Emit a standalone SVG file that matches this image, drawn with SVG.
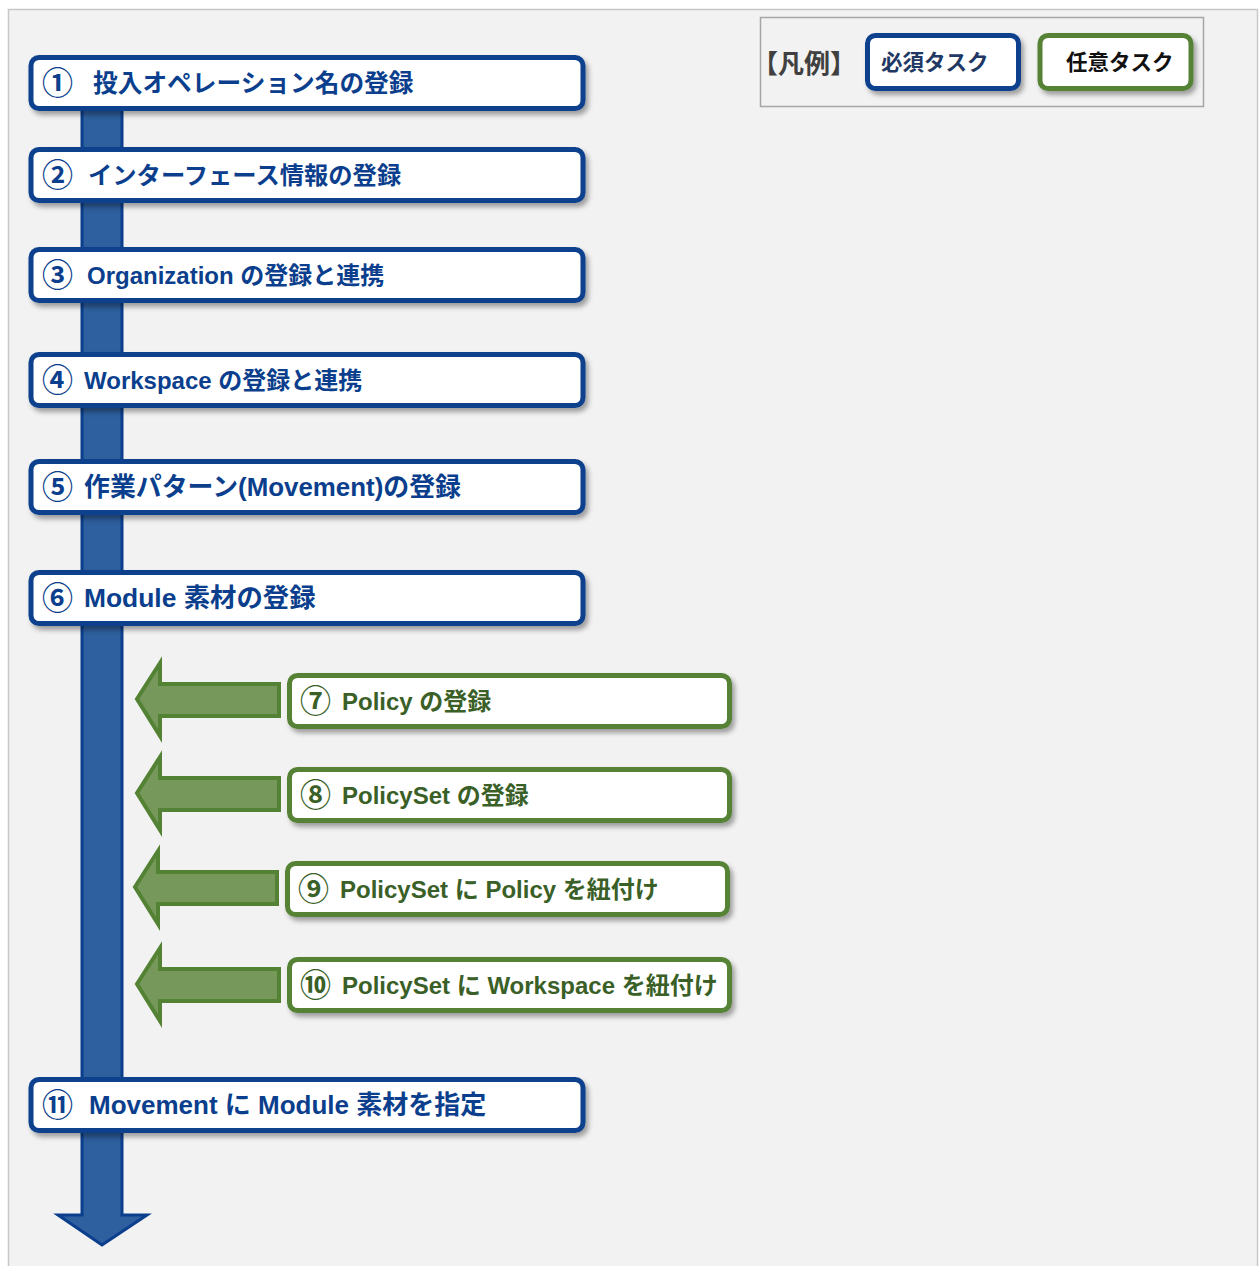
<svg xmlns="http://www.w3.org/2000/svg" width="1260" height="1266" viewBox="0 0 1260 1266">
<defs>
<style>
.req{fill:#ffffff;stroke:#0b3f8d;stroke-width:5}
.opt{fill:#ffffff;stroke:#548235;stroke-width:5}
.t{font-family:"Liberation Sans","Noto Sans CJK JP",sans-serif;font-weight:bold;font-size:24px}
.n{font-family:"Noto Sans CJK JP",sans-serif;font-weight:bold;font-size:31px}
.tb{fill:#0b3f8d}
.tg{fill:#3a5f27}
.garrow{fill:#76985a;stroke:#548235;stroke-width:4;stroke-linejoin:miter}
</style>
<filter id="sh" x="-5%" y="-20%" width="115%" height="160%">
<feDropShadow dx="3" dy="4" stdDeviation="2.5" flood-color="#000" flood-opacity="0.35"/>
</filter>
</defs>
<rect x="0" y="0" width="1260" height="1266" fill="#ffffff"/>
<rect x="8.5" y="9.5" width="1249" height="1270" fill="#f2f2f2" stroke="#c8c8c8" stroke-width="1.5"/>

<g id="legend">
<rect x="760.5" y="17.5" width="443" height="89" fill="none" stroke="#a6a6a6" stroke-width="1.5"/>
<text x="752" y="73" class="t" style="font-size:26px;fill:#404040">【凡例】</text>
<rect x="867.5" y="35.5" width="151" height="53" rx="8" class="req" filter="url(#sh)"/>
<text x="881" y="70" class="t" style="font-size:21.5px;fill:#1f3864">必須タスク</text>
<rect x="1040" y="35.5" width="151" height="53" rx="8" class="opt" filter="url(#sh)"/>
<text x="1066" y="70" class="t" style="font-size:21.5px;fill:#111111">任意タスク</text>
</g>

<g id="connectors">
<polygon points="82,100 122,100 122,1215 147,1215 102,1245 58,1215 82,1215" fill="#2e5f9e" stroke="#0b3f8d" stroke-width="3" stroke-linejoin="miter"/>
<polygon class="garrow" points="279,684 279,716 160,716 160,736 137,699 160,663 160,684"/>
<polygon class="garrow" points="279,778 279,810 160,810 160,830 137,793 160,757 160,778"/>
<polygon class="garrow" points="277,872 277,904 158,904 158,924 135,887 158,851 158,872"/>
<polygon class="garrow" points="279,969 279,1001 160,1001 160,1021 137,984 160,948 160,969"/>
</g>

<g id="n1"><rect x="31" y="57.5" width="552" height="51" rx="8" class="req" filter="url(#sh)"/>
<text x="42" y="94" class="n tb">①</text><text x="93" y="92" class="t tb" style="font-size:24.7px">投入オペレーション名の登録</text></g>
<g id="n2"><rect x="31" y="149.5" width="552" height="51" rx="8" class="req" filter="url(#sh)"/>
<text x="42" y="186" class="n tb">②</text><text x="88" y="184" class="t tb" style="font-size:24.3px">インターフェース情報の登録</text></g>
<g id="n3"><rect x="31" y="249.5" width="552" height="51" rx="8" class="req" filter="url(#sh)"/>
<text x="42" y="286" class="n tb">③</text><text x="87" y="284" class="t tb">Organization の登録と連携</text></g>
<g id="n4"><rect x="31" y="354.5" width="552" height="51" rx="8" class="req" filter="url(#sh)"/>
<text x="42" y="391" class="n tb">④</text><text x="84" y="389" class="t tb">Workspace の登録と連携</text></g>
<g id="n5"><rect x="31" y="461.5" width="552" height="51" rx="8" class="req" filter="url(#sh)"/>
<text x="42" y="498" class="n tb">⑤</text><text x="84" y="496" class="t tb" style="font-size:25.9px">作業パターン(Movement)の登録</text></g>
<g id="n6"><rect x="31" y="572.5" width="552" height="51" rx="8" class="req" filter="url(#sh)"/>
<text x="42" y="609" class="n tb">⑥</text><text x="84" y="607" class="t tb" style="font-size:26.4px">Module 素材の登録</text></g>

<g id="n7"><rect x="289.5" y="675.5" width="440" height="51" rx="8" class="opt" filter="url(#sh)"/>
<text x="300" y="712" class="n tg">⑦</text><text x="342" y="710" class="t tg">Policy の登録</text></g>
<g id="n8"><rect x="289.5" y="769.5" width="440" height="51" rx="8" class="opt" filter="url(#sh)"/>
<text x="300" y="806" class="n tg">⑧</text><text x="342" y="804" class="t tg">PolicySet の登録</text></g>
<g id="n9"><rect x="287.5" y="863.5" width="440" height="51" rx="8" class="opt" filter="url(#sh)"/>
<text x="298" y="900" class="n tg">⑨</text><text x="340" y="898" class="t tg">PolicySet に Policy を紐付け</text></g>
<g id="n10"><rect x="289.5" y="959.5" width="440" height="51" rx="8" class="opt" filter="url(#sh)"/>
<text x="300" y="996" class="n tg">⑩</text><text x="342" y="994" class="t tg">PolicySet に Workspace を紐付け</text></g>

<g id="n11"><rect x="31" y="1079.5" width="552" height="51" rx="8" class="req" filter="url(#sh)"/>
<text x="42" y="1116" class="n tb">⑪</text><text x="89" y="1114" class="t tb" style="font-size:26px">Movement に Module 素材を指定</text></g>
</svg>
